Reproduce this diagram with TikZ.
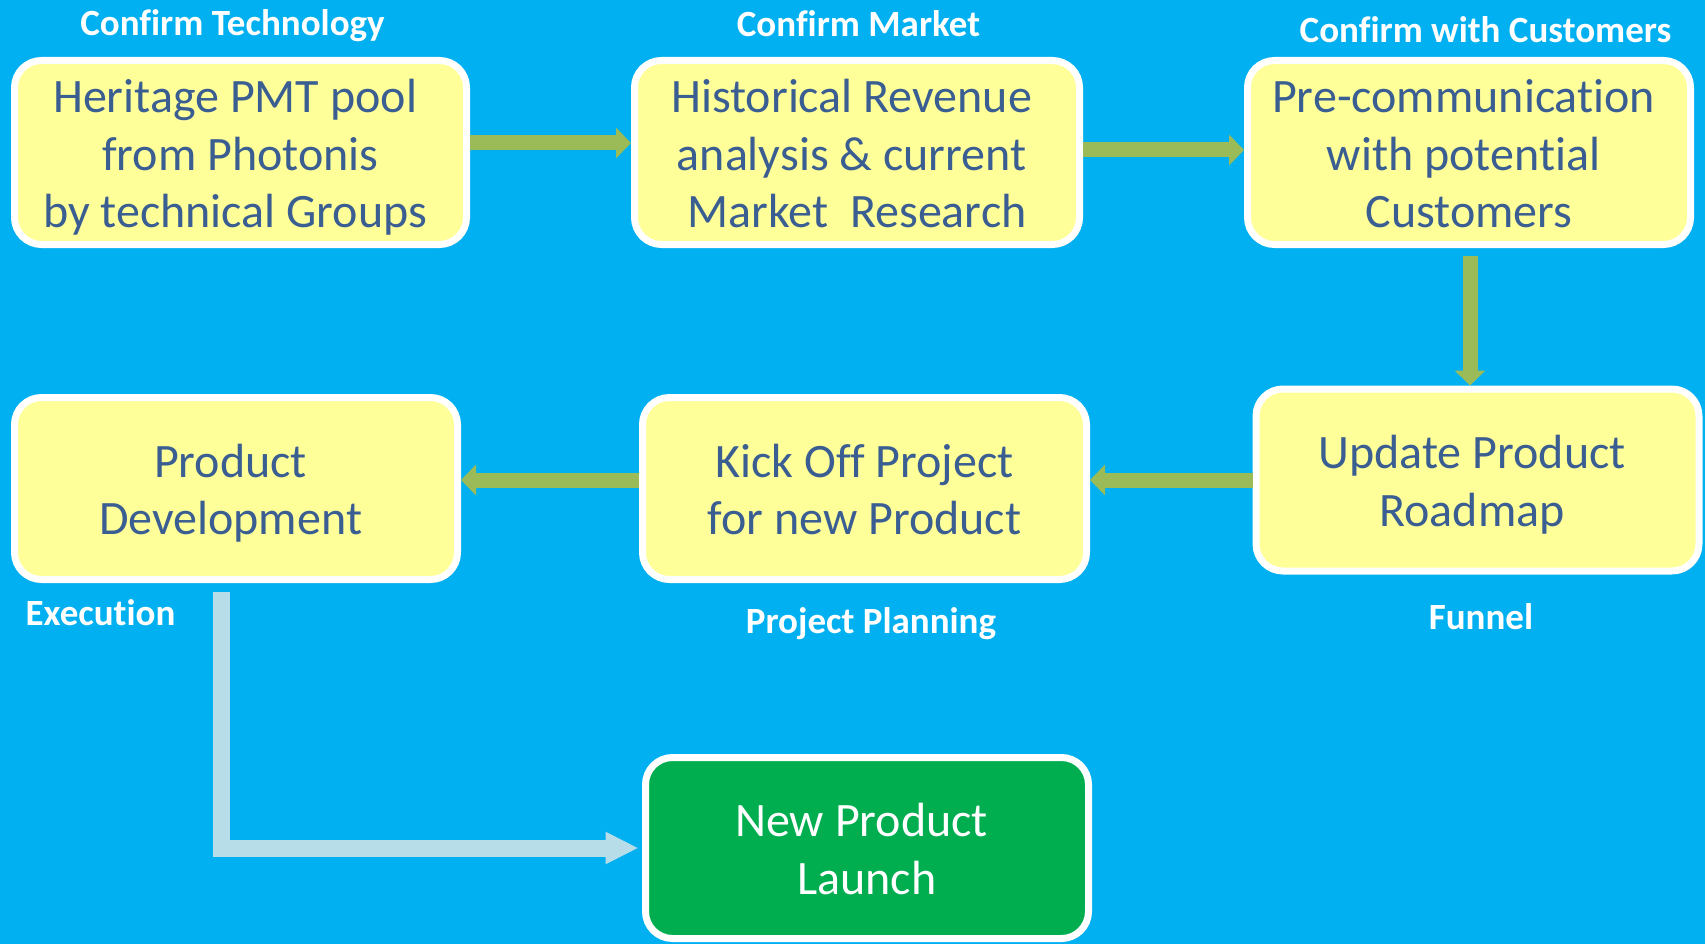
\documentclass[tikz,border=0pt]{standalone}
\usepackage{fontspec}
\setmainfont{Carlito}[Ligatures=NoCommon]
\usetikzlibrary{arrows.meta,shadows}
\definecolor{bgblue}{HTML}{00B0F0}
\definecolor{boxyellow}{HTML}{FFFF99}
\definecolor{txtblue}{HTML}{3A5E92}
\definecolor{arrgreen}{HTML}{9BBB59}
\definecolor{arrlight}{HTML}{B7DDE8}
\definecolor{boxgreen}{HTML}{00AE50}
\newcommand\trsp{\kern10.8pt}
\newcommand\topstr{\rule{0pt}{47.2pt}}
\newcommand\botstr{\rule[-12pt]{0pt}{12pt}}
\tikzset{
  stepbox/.style={draw=white, line width=7pt, fill=boxyellow, rounded corners=27pt,
    minimum width=445pt, minimum height=184pt, align=center, text=txtblue,
    font=\fontsize{48}{57.6}\selectfont, inner sep=0pt,
    drop shadow={shadow xshift=1.5pt, shadow yshift=-3pt, opacity=0.3, fill=black}},
  launchbox/.style={stepbox, fill=boxgreen, text=white},
  tag/.style={anchor=base, text=white, font=\fontsize{37}{42}\selectfont\bfseries, inner sep=0pt},
  garrow/.style={draw=arrgreen, line width=15pt, line cap=butt,
    -{Triangle[width=30pt,length=15pt]}},
  larrow/.style={draw=arrlight, line width=17pt, line cap=butt, line join=miter,
    -{Triangle[width=30pt,length=33pt]}}
}
\begin{document}
\begin{tikzpicture}[x=1pt,y=-1pt]
\fill[bgblue] (0,0) rectangle (1705,944);
\useasboundingbox (0,0) rectangle (1705,944);

\node[stepbox, minimum width=452pt] (b1) at (240.5,152.5)
  {\topstr Heritage PMT pool\trsp\\from Photonis\\by technical Groups\trsp\botstr};
\node[stepbox, minimum width=445pt] (b2) at (857,152.5)
  {\topstr Historical Revenue\trsp\\analysis \& current\trsp\\Market\ \ Research\botstr};
\node[stepbox, minimum width=443pt] (b3) at (1469,152.5)
  {\topstr Pre-communication\trsp\\with potential\trsp\\Customers\botstr};
\node[stepbox, minimum width=443pt, minimum height=182pt] (b6) at (1477.5,480)
  {\topstr Update Product\trsp\\Roadmap\trsp\botstr};
\node[stepbox, minimum width=444pt, minimum height=182pt] (b5) at (864.5,488.5)
  {\topstr Kick Off Project\\for new Product\botstr};
\node[stepbox, minimum width=443pt, minimum height=182pt] (b4) at (236,488.5)
  {\topstr Product\trsp\\Development\trsp\botstr};
\node[launchbox, minimum width=443pt, minimum height=181pt] (b7) at (867,848)
  {\topstr New Product\trsp\\Launch\botstr};

\node[tag] (t1) at (232.5,35.5) {Confirm Technology};
\node[tag] (t2) at (858.5,37) {Confirm Market};
\node[tag] (t3) at (1485.5,43) {Confirm with Customers};
\node[tag] (t4) at (100.5,625) {Execution};
\node[tag] (t5) at (871,633) {Project Planning};
\node[tag] (t6) at (1481,629) {Funnel};

\draw[garrow] ([yshift=9.5pt]b1.east) -- ([yshift=9.5pt]b2.west);
\draw[garrow] ([yshift=2.5pt]b2.east) -- ([yshift=2.5pt]b3.west);
\draw[garrow] ([xshift=1pt,yshift=-7.5pt]b3.south) -- ([xshift=-7.5pt]b6.north);
\draw[garrow] (b6.west) -- ([yshift=8.5pt]b5.east);
\draw[garrow] ([yshift=8.5pt]b5.west) -- ([yshift=8.5pt]b4.east);
\draw[larrow] ([xshift=-14.5pt,yshift=-8.5pt]b4.south) |- ([xshift=-3.5pt]b7.west);
\end{tikzpicture}
\end{document}
